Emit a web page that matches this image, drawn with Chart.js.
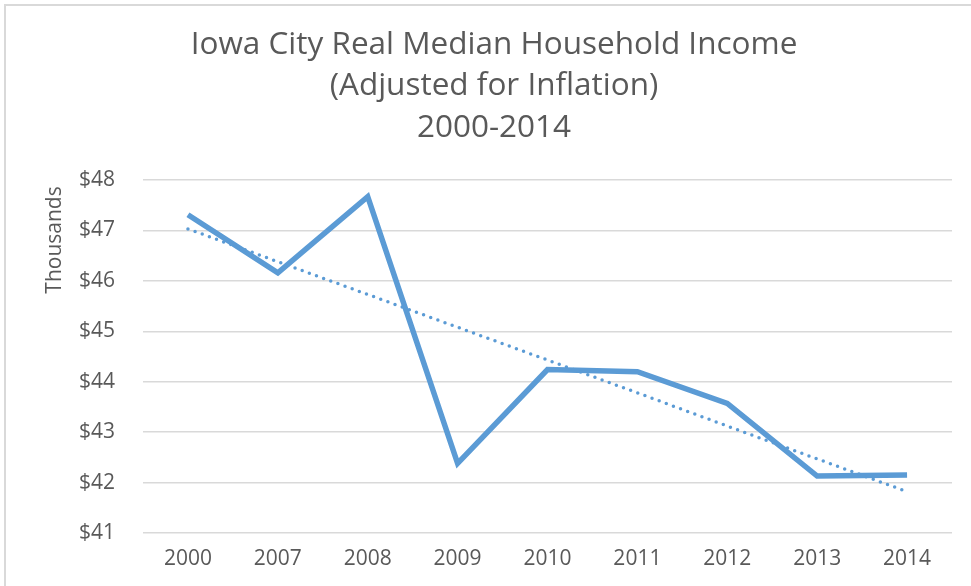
<!DOCTYPE html>
<html>
<head>
<meta charset="utf-8">
<script src="https://cdn.jsdelivr.net/npm/chart.js@4.4.1/dist/chart.umd.min.js"></script>
<style>
  html, body { margin: 0; padding: 0; background: #fff; overflow: hidden; }
  #frame { position: absolute; left: 4px; top: 4px; width: 1100px; height: 800px; border: 2px solid #d9d9d9; }
  #wrap { position: absolute; left: 0; top: 0; width: 971px; height: 586px; }
</style>
</head>
<body>
<div id="frame"></div>
<div id="wrap"><canvas id="my-chart" width="971" height="586"></canvas></div>
<script>
// categories and values (thousands of dollars)
const years = ['2000', '2007', '2008', '2009', '2010', '2011', '2012', '2013', '2014']
const income = [47.31, 46.16, 47.67, 42.38, 44.24, 44.20, 43.57, 42.13, 42.15]
// linear trendline as drawn in the picture
const trend = [47.03, 46.38, 45.73, 45.08, 44.43, 43.78, 43.12, 42.47, 41.82]
const yTicks = [41, 42, 43, 44, 45, 46, 47, 48]

const titleLines = ['Iowa City Real Median Household Income', '(Adjusted for Inflation)', '2000-2014']
const unitLabel = 'Thousands'

const FONT = '"Century Gothic", "Open Sans", sans-serif'
const GREY = '#595959'
const BLUE = '#5b9bd5'

// title is centred on the whole frame (not the plot), and the unit label sits near the top of the y axis
const textPlugin = {
    id: 'chartText',
    afterDraw(chart) {
        const ctx = chart.ctx
        ctx.save()
        ctx.fillStyle = GREY
        ctx.textAlign = 'center'
        ctx.textBaseline = 'middle'
        ctx.font = '31.5px ' + FONT
        titleLines.forEach((line, i) => ctx.fillText(line, 494, 45 + i * 41.5))

        ctx.translate(55, chart.scales.y.top + 60)
        ctx.rotate(-Math.PI / 2)
        ctx.font = '21px ' + FONT
        ctx.fillText(unitLabel, 0, 0)
        ctx.restore()
    }
}

new Chart(document.getElementById('my-chart').getContext('2d'), {
    type: 'line',
    data: {
        labels: years,
        datasets: [
            {
                label: 'Linear trend',
                data: trend,
                borderColor: BLUE,
                borderWidth: 3.5,
                borderDash: [0, 7.6],
                borderCapStyle: 'round',
                pointRadius: 0,
                tension: 0,
                order: 0
            },
            {
                label: 'Real median household income',
                data: income,
                borderColor: BLUE,
                borderWidth: 5.5,
                pointRadius: 0,
                tension: 0,
                order: 1
            }
        ]
    },
    options: {
        responsive: false,
        animation: false,
        layout: {padding: {left: 0, right: 19, top: 180, bottom: 0}},
        plugins: {
            legend: {display: false},
            tooltip: {enabled: false},
            title: {display: false}
        },
        scales: {
            x: {
                offset: true,
                grid: {display: false, drawTicks: false},
                border: {display: false},
                ticks: {color: GREY, font: {family: FONT, size: 21}, padding: 13, maxRotation: 0},
                afterFit: s => { s.height = 53 }
            },
            y: {
                min: 41,
                max: 48,
                afterBuildTicks: s => { s.ticks = yTicks.map(v => ({value: v})) },
                grid: {color: '#d9d9d9', lineWidth: 1.5, drawTicks: false},
                border: {display: false},
                ticks: {
                    color: GREY,
                    font: {family: FONT, size: 21},
                    padding: 28,
                    callback: v => '$' + v
                },
                afterFit: s => { s.width = 143 }
            }
        }
    },
    plugins: [textPlugin]
})
</script>
</body>
</html>
